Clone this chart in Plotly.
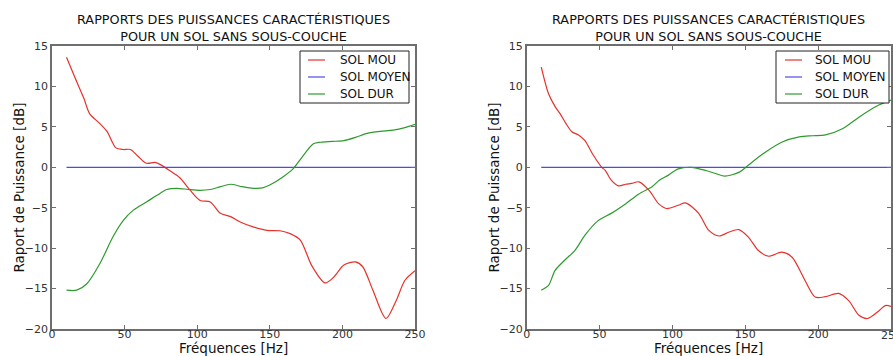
"""Rapports des puissances caractéristiques - deux panneaux côte à côte."""

import plotly.graph_objects as go

# ---- données --------------------------------------------------------------
TITLE = "RAPPORTS DES PUISSANCES CARACTÉRISTIQUES<br>POUR UN SOL SANS SOUS-COUCHE"
X_TITLE = "Fréquences [Hz]"
Y_TITLE = "Raport de Puissance [dB]"
SERIES_NAMES = ["SOL MOU", "SOL MOYEN", "SOL DUR"]
Y_TICKS = [-20, -15, -10, -5, 0, 5, 10, 15]
X_TICKS = [0, 50, 100, 150, 200, 250]

# panneau gauche
left_mou_f = [10, 16, 22, 26, 33, 38, 44, 49, 54, 59, 65, 71, 75, 81, 88, 95,
              102, 109, 116, 123, 130, 139, 148, 157, 164, 171, 179, 188, 194,
              201, 209, 214, 221, 230, 237, 243, 250]
left_mou_v = [13.6, 11.0, 8.5, 6.6, 5.4, 4.4, 2.4, 2.2, 2.2, 1.4, 0.5, 0.6, 0.3,
              -0.4, -1.3, -2.8, -4.1, -4.3, -5.7, -6.1, -6.8, -7.4, -7.8, -7.85,
              -8.2, -9.0, -12.2, -14.3, -13.6, -12.1, -11.7, -12.3, -15.2, -18.7,
              -16.5, -14.0, -12.8]
left_dur_f = [10, 17, 24, 33, 42, 49, 56, 65, 72, 79, 86, 94, 102, 109, 116, 123,
              131, 139, 145, 150, 159, 166, 172, 180, 185, 193, 201, 209, 217,
              226, 235, 243, 250]
left_dur_v = [-15.2, -15.2, -14.4, -11.9, -8.6, -6.6, -5.3, -4.3, -3.5, -2.75,
              -2.6, -2.75, -2.85, -2.75, -2.4, -2.1, -2.4, -2.6, -2.55, -2.2,
              -1.2, -0.2, 1.2, 2.9, 3.1, 3.2, 3.3, 3.7, 4.2, 4.45, 4.6, 4.9, 5.3]

# panneau droit
right_mou_f = [10, 15, 19.5, 23, 27, 31, 35.5, 40, 45, 51.5, 54, 58, 63, 68, 72,
               77, 84, 90.5, 96, 104, 109, 118, 125, 132, 139, 145.5, 152, 159,
               166, 175, 182, 191, 198, 205, 214, 221, 228, 234, 242, 246, 250]
right_mou_v = [12.4, 9.1, 7.5, 6.6, 5.4, 4.4, 4.0, 3.3, 1.7, 0.0, -0.4, -1.6,
               -2.3, -2.1, -2.0, -1.8, -2.85, -4.5, -5.1, -4.7, -4.4, -5.7,
               -7.8, -8.5, -8.0, -7.7, -8.6, -10.3, -11.0, -10.5, -11.1, -14.0,
               -16.05, -16.0, -15.6, -16.5, -18.3, -18.7, -17.7, -17.1, -17.2]
right_dur_f = [10, 15, 19.5, 26, 33, 40, 49, 58, 68, 77, 86, 91, 97, 104, 113,
               123, 130, 136, 146, 152, 164, 175, 187, 196, 205, 217, 228, 240,
               250]
right_dur_v = [-15.2, -14.6, -12.75, -11.5, -10.3, -8.4, -6.6, -5.7, -4.5, -3.3,
               -2.4, -1.6, -1.0, -0.2, 0.0, -0.4, -0.8, -1.1, -0.6, 0.25, 1.9,
               3.1, 3.75, 3.9, 4.0, 4.8, 6.2, 7.55, 8.3]

moyen_f = [10, 250]
moyen_v = [0, 0]

COLORS = {"SOL MOU": "#e8302a", "SOL MOYEN": "#4a4ae8", "SOL DUR": "#2e9a2e"}

# ---- mise en page (pixels de la figure 893x356) ---------------------------
FONT = "DejaVu Sans"
W, H = 893, 356
ML, MR, MT, MB = 52, 2, 46, 27
PW, PH = W - ML - MR, H - MT - MB


def px(x):
    return (x - ML) / PW


def py(y):
    return (H - MB - y) / PH


X_DOMAINS = [[0.0, px(415)], [px(526.7), 1.0]]
# boîte de légende (gauche, droite, haut, bas), début/fin du trait, début du texte
LEGEND_BOXES = [(300, 409, 51, 103, 308, 325, 338),
                (776, 889, 51, 103, 785, 802, 813)]
LEGEND_ROWS = [60, 77, 94]
Y_TITLE_X = [18, 493]

panels = [
    (left_mou_f, left_mou_v, left_dur_f, left_dur_v),
    (right_mou_f, right_mou_v, right_dur_f, right_dur_v),
]

fig = go.Figure()
for i, (mf, mv, df, dv) in enumerate(panels):
    suffix = "" if i == 0 else str(i + 1)
    for name, xs, ys in [
        ("SOL MOU", mf, mv),
        ("SOL MOYEN", moyen_f, moyen_v),
        ("SOL DUR", df, dv),
    ]:
        fig.add_trace(
            go.Scatter(
                x=xs, y=ys, mode="lines", name=name, showlegend=False,
                line=dict(color=COLORS[name], width=1.2, shape="spline",
                          smoothing=0.8),
                xaxis=f"x{suffix}", yaxis=f"y{suffix}",
            )
        )

TICK_FONT = dict(family=FONT, size=11, color="#333")
axis_common = dict(
    showgrid=False, zeroline=False, showline=True, mirror="allticks",
    linecolor="#6e6e6e", linewidth=1.5, ticks="inside", ticklen=4,
    tickcolor="#6e6e6e", tickfont=TICK_FONT, automargin=False,
)

layout = dict(
    width=W, height=H,
    margin=dict(l=ML, r=MR, t=MT, b=MB),
    paper_bgcolor="white", plot_bgcolor="white",
    font=dict(family=FONT, color="#111"),
    showlegend=False,
)

for i, dom in enumerate(X_DOMAINS):
    suffix = "" if i == 0 else str(i + 1)
    layout[f"xaxis{suffix}"] = dict(
        domain=dom, range=[0, 250], tickvals=X_TICKS, anchor=f"y{suffix}",
        ticklabelstandoff=-6, **axis_common,
    )
    layout[f"yaxis{suffix}"] = dict(
        domain=[0, 1], range=[-20, 15], tickvals=Y_TICKS, anchor=f"x{suffix}",
        **axis_common,
    )

fig.update_layout(**layout)

for i, dom in enumerate(X_DOMAINS):
    mid = (dom[0] + dom[1]) / 2
    # titre
    fig.add_annotation(
        text=TITLE, x=mid, y=py(28), xref="paper", yref="paper",
        xanchor="center", yanchor="middle", showarrow=False,
        font=dict(family=FONT, size=12.8, color="#111"),
    )
    # titres des axes
    fig.add_annotation(
        text=X_TITLE, x=mid, y=py(348), xref="paper", yref="paper",
        xanchor="center", yanchor="middle", showarrow=False,
        font=dict(family=FONT, size=13.5, color="#111"),
    )
    fig.add_annotation(
        text=Y_TITLE, x=px(Y_TITLE_X[i]), y=0.5, xref="paper", yref="paper",
        xanchor="center", yanchor="middle", textangle=-90, showarrow=False,
        font=dict(family=FONT, size=13.5, color="#111"),
    )

    # légende (boîte encadrée, style matplotlib)
    bx0, bx1, by0, by1, lx0, lx1, tx = LEGEND_BOXES[i]
    fig.add_shape(
        type="rect", xref="paper", yref="paper",
        x0=px(bx0), x1=px(bx1), y0=py(by1), y1=py(by0),
        fillcolor="white", line=dict(color="#222", width=1), layer="above",
    )
    for name, row in zip(SERIES_NAMES, LEGEND_ROWS):
        fig.add_shape(
            type="line", xref="paper", yref="paper",
            x0=px(lx0), x1=px(lx1), y0=py(row), y1=py(row),
            line=dict(color=COLORS[name], width=1.2), layer="above",
        )
        fig.add_annotation(
            text=name, x=px(tx), y=py(row), xref="paper", yref="paper",
            xanchor="left", yanchor="middle", showarrow=False,
            font=dict(family=FONT, size=12, color="#111"),
        )

# plotly masque l'étiquette « 250 » du panneau droit (au bord de la page) ;
# dans l'original elle est simplement coupée par le bord
fig.add_annotation(
    text=str(X_TICKS[-1]), x=X_TICKS[-1], xref="x2", y=py(335), yref="paper",
    xanchor="center", yanchor="middle", showarrow=False, font=TICK_FONT,
)

# la page par défaut a une marge de 8 px autour du graphique : on la retire
fig.write_html(
    "out.html",
    config={"displayModeBar": False},
    post_script="document.body.style.margin = '0';",
)
